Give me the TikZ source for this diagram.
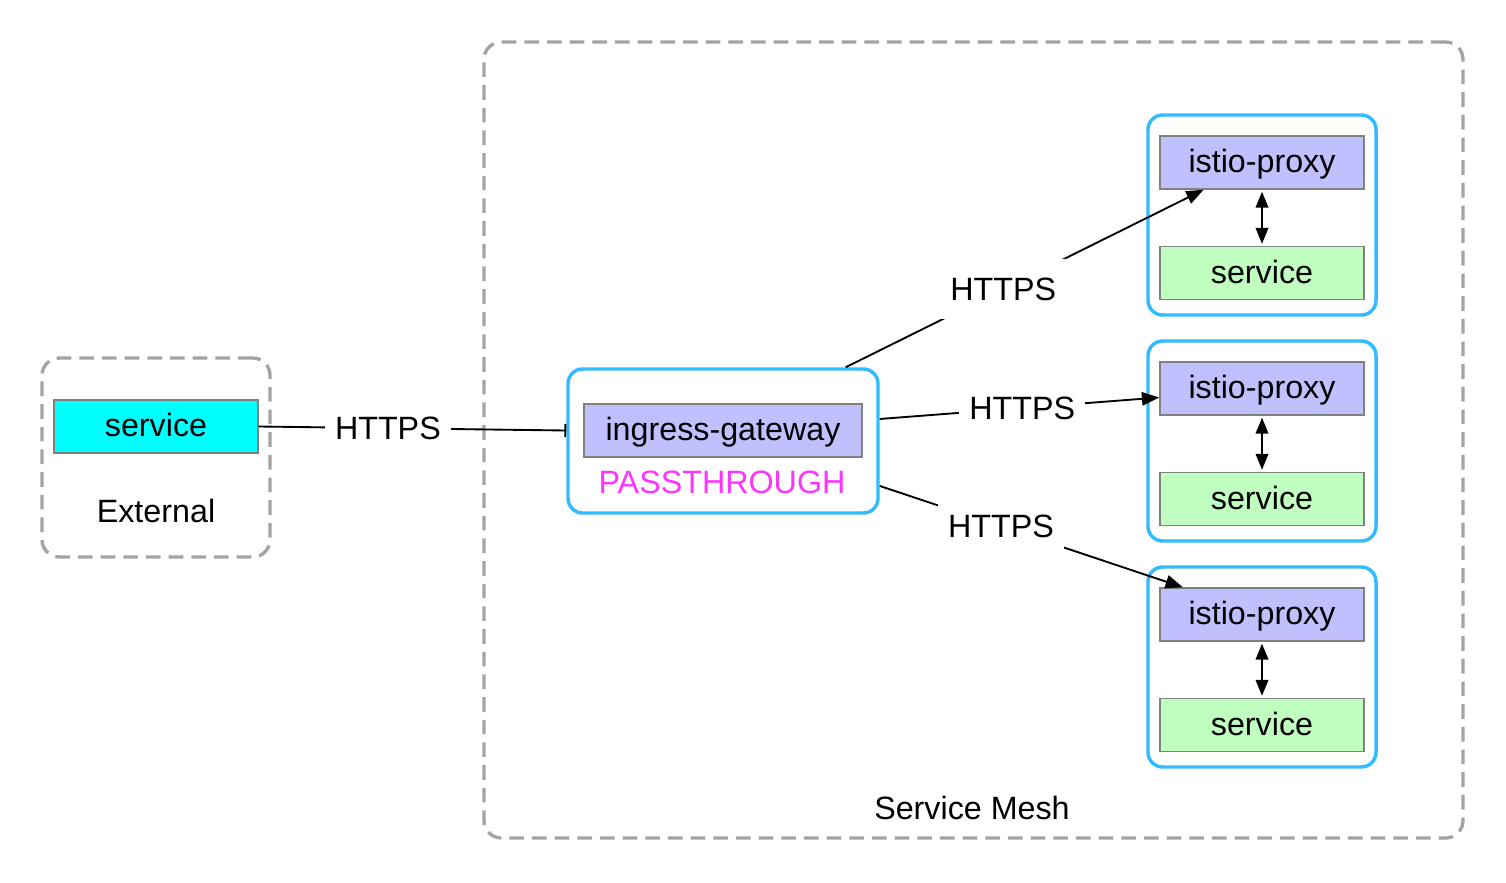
\documentclass[tikz,border=0pt]{standalone}
\usepackage{fontspec}
\setmainfont{Liberation Sans}
\usetikzlibrary{arrows.meta,positioning}
\definecolor{groupgray}{HTML}{A3A3A3}
\definecolor{partgray}{HTML}{808080}
\definecolor{podblue}{HTML}{33BBFF}
\definecolor{proxyblue}{HTML}{C0C0FF}
\definecolor{svcgreen}{HTML}{C0FFC0}
\definecolor{extcyan}{HTML}{00FFFF}
\definecolor{passpink}{HTML}{FF33FF}
\tikzset{
  group box/.style={draw=groupgray, line width=2.5pt, dash pattern=on 11pt off 6pt, rounded corners=13pt, inner sep=0pt},
  pod box/.style={draw=podblue, line width=2.6pt, rounded corners=11pt, inner sep=0pt},
  part/.style={draw=partgray, line width=1.1pt, inner sep=0pt, minimum width=153pt, minimum height=39.75pt, text height=19pt, text depth=4pt},
  proxy/.style={part, fill=proxyblue},
  svc/.style={part, fill=svcgreen},
  wire/.style={line width=1.4pt, -{Triangle[length=13pt,width=10pt]}},
  both wire/.style={line width=1.4pt, {Triangle[length=12pt,width=9.5pt]}-{Triangle[length=12pt,width=9.5pt]}, shorten <=1.5pt, shorten >=1.5pt},
  proto/.style={fill=white, inner xsep=7.5pt, inner ysep=14pt}
}
\begin{document}
\begin{tikzpicture}[x=0.75pt, y=-0.75pt, every node/.style={font=\fontsize{24.2}{29}\selectfont}]
  \useasboundingbox (0,0) rectangle (1506,882);

  % groups
  \node[group box, minimum width=734.25pt, minimum height=597pt] (mesh) at (973.5,440) {};
  \node (meshlabel) at (972,808) {Service Mesh};
  \node[group box, minimum width=171pt, minimum height=149.25pt] (external) at (156,457.5) {};
  \node (extlabel) at (156,511) {External};

  % external service
  \node[part, fill=extcyan] (ext) at (156,426.5) {service};

  % gateway
  \node[pod box, minimum width=232.5pt, minimum height=108pt] (gwbox) at (723,441) {};
  \node[proxy, minimum width=208.5pt] (ingress) at (723,430.5) {ingress-gateway};
  \node[text=passpink] (pass) at (722,482) {PASSTHROUGH};

  % pods
  \node[pod box, minimum width=171pt, minimum height=150pt] (pod1) at (1262,215) {};
  \node[proxy] (proxy1) at (1262,162.5) {istio-proxy};
  \node[svc] (svc1) at (1262,273) {service};

  \node[pod box, minimum width=171pt, minimum height=150pt] (pod2) at (1262,441) {};
  \node[proxy] (proxy2) at (1262,388.5) {istio-proxy};
  \node[svc] (svc2) at (1262,499) {service};

  \node[pod box, minimum width=171pt, minimum height=150pt] (pod3) at (1262,667) {};
  \node[proxy] (proxy3) at (1262,614.5) {istio-proxy};
  \node[svc] (svc3) at (1262,725) {service};

  % connections
  \draw[line width=1.4pt, -{Bar[width=10pt]}] (ext.east) -- node[proto, pos=0.42] (https0) {HTTPS} (gwbox.west |- ingress.west);
  \draw[wire] (gwbox.31) -- node[proto, pos=0.44] (https1) {HTTPS} (proxy1.205.7);
  \draw[wire] (gwbox.8.4) -- node[proto, pos=0.51] (https2) {HTTPS} (proxy2.185);
  \draw[wire] (gwbox.344.5) -- node[proto, pos=0.40] (https3) {HTTPS} (proxy3.161.5);

  \draw[both wire] (proxy1) -- (svc1);
  \draw[both wire] (proxy2) -- (svc2);
  \draw[both wire] (proxy3) -- (svc3);
\end{tikzpicture}
\end{document}
